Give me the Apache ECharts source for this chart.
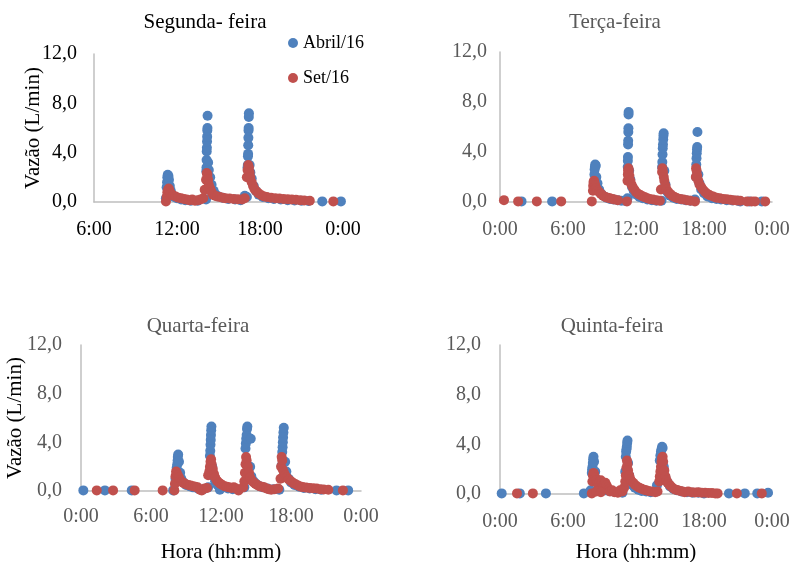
<!DOCTYPE html>
<html>
<head>
<meta charset="utf-8">
<script src="https://cdn.jsdelivr.net/npm/echarts@6/dist/echarts.min.js"></script>
<style>html,body{margin:0;padding:0;background:#fff}#c{width:794px;height:562px}</style>
</head>
<body>
<div id="c"></div>
<script>
// Data: [hour of day, flow L/min]
var panelTitles = ['Segunda- feira', 'Terça-feira', 'Quarta-feira', 'Quinta-feira'];
var seriesNames = ['Abril/16', 'Set/16'];
var yTicks = [0, 4, 8, 12];
var xRanges = [[6, 24], [0, 24], [0, 24], [0, 24]];

var monAbr = [[11.2,0.3],[11.25,1.2],[11.28,1.6],[11.3,2.0],[11.33,2.2],[11.38,2.1],[11.42,1.8],[11.48,1.3],[11.55,0.9],[11.65,0.6],[11.8,0.4],[12.0,0.3],[12.3,0.2],[12.6,0.15],[13.0,0.1],[13.5,0.1],
[14.1,0.2],[14.12,2.5],[14.13,2.8],[14.14,3.4],[14.15,4.1],[14.16,4.4],[14.17,4.9],[14.18,5.3],[14.19,5.8],[14.2,6.0],[14.21,7.0],[14.25,3.2],[14.3,2.6],[14.4,2.0],[14.5,1.4],[14.65,0.9],[14.8,0.6],[15.0,0.45],[15.3,0.35],[15.7,0.25],[16.2,0.2],[16.6,0.15],[16.9,0.5],
[17.05,0.4],[17.1,2.8],[17.12,3.0],[17.13,3.7],[17.14,3.9],[17.15,4.6],[17.16,5.2],[17.17,5.8],[17.18,6.0],[17.19,6.9],[17.2,7.2],[17.25,3.0],[17.3,2.4],[17.4,1.9],[17.55,1.3],[17.7,0.9],[17.9,0.6],[18.2,0.4],[18.6,0.3],[19.0,0.25],[19.5,0.2],[20.0,0.15],[20.5,0.12],[21.0,0.1],[21.5,0.08],[22.5,0.05],[23.85,0.05]];
var monSet = [[11.2,0.05],[11.25,0.4],[11.3,0.8],[11.35,1.0],[11.4,1.1],[11.45,0.9],[11.55,0.7],[11.7,0.55],[11.9,0.45],[12.1,0.35],[12.3,0.3],[12.5,0.25],[12.7,0.2],[12.9,0.15],[13.1,0.2],[13.3,0.1],[13.5,0.15],[13.7,0.2],[13.9,0.3],
[14.0,1.0],[14.1,1.8],[14.15,2.35],[14.2,2.2],[14.25,1.8],[14.3,1.4],[14.4,1.1],[14.5,0.8],[14.6,0.6],[14.75,0.5],[14.9,0.45],[15.1,0.4],[15.3,0.35],[15.5,0.3],[15.8,0.28],[16.1,0.25],[16.4,0.22],[16.7,0.2],[16.9,0.3],
[17.05,2.0],[17.1,2.6],[17.15,3.0],[17.2,2.8],[17.25,2.4],[17.3,2.0],[17.4,1.6],[17.5,1.3],[17.6,1.05],[17.75,0.85],[17.9,0.7],[18.1,0.55],[18.3,0.45],[18.5,0.4],[18.8,0.35],[19.1,0.3],[19.4,0.28],[19.7,0.25],[20.0,0.22],[20.3,0.2],[20.6,0.18],[20.9,0.15],[21.2,0.12],[21.6,0.1],[23.3,0.05]];

var tueAbr = [[1.9,0.05],[4.6,0.05],
[8.3,1.5],[8.33,2.2],[8.35,2.6],[8.37,2.8],[8.4,3.0],[8.45,2.9],[8.5,2.0],[8.6,1.5],[8.75,1.0],[8.9,0.7],[9.1,0.5],[9.4,0.35],[9.7,0.25],[10.0,0.2],[10.4,0.15],[10.7,0.1],[11.0,0.1],
[11.25,0.3],[11.27,2.8],[11.28,3.3],[11.29,3.6],[11.3,4.6],[11.31,4.9],[11.32,5.6],[11.33,5.9],[11.34,7.0],[11.35,7.2],[11.4,2.5],[11.5,1.8],[11.65,1.2],[11.8,0.9],[12.0,0.6],[12.3,0.4],[12.6,0.3],[13.0,0.2],[13.4,0.15],[13.8,0.1],
[14.25,0.1],[14.3,2.8],[14.32,3.2],[14.34,3.8],[14.36,4.3],[14.38,4.6],[14.4,5.0],[14.42,5.3],[14.44,5.5],[14.5,2.5],[14.6,1.4],[14.7,0.9],[14.85,0.7],[15.0,0.5],[15.3,0.35],[15.6,0.25],[16.0,0.2],[16.4,0.15],[16.8,0.1],
[17.2,0.2],[17.3,2.0],[17.32,3.0],[17.34,3.5],[17.36,3.9],[17.38,4.2],[17.4,4.4],[17.42,5.6],[17.5,2.2],[17.6,1.5],[17.75,1.0],[18.0,0.7],[18.3,0.45],[18.7,0.3],[19.1,0.25],[19.5,0.2],[20.0,0.15],[20.5,0.12],[21.0,0.1],[21.2,0.05],[22.0,0.05],[23.1,0.05]];
var tueSet = [[0.35,0.15],[1.6,0.05],[3.25,0.05],[5.4,0.05],
[8.1,0.05],[8.2,0.9],[8.22,1.3],[8.25,1.6],[8.3,1.7],[8.35,1.5],[8.4,1.3],[8.5,1.1],[8.6,0.9],[8.75,0.8],[8.9,0.65],[9.1,0.5],[9.3,0.4],[9.5,0.35],[9.7,0.3],[9.9,0.25],[10.1,0.2],[10.4,0.15],
[11.2,0.05],[11.25,1.7],[11.28,2.2],[11.3,2.5],[11.33,2.7],[11.37,2.5],[11.42,2.1],[11.5,1.7],[11.6,1.4],[11.7,1.2],[11.85,1.0],[12.0,0.8],[12.2,0.65],[12.4,0.55],[12.6,0.45],[12.8,0.38],[13.0,0.3],[13.2,0.25],[13.5,0.2],[13.8,0.15],[14.1,0.1],
[14.2,1.0],[14.3,2.4],[14.33,2.7],[14.38,2.4],[14.45,2.0],[14.5,1.7],[14.6,1.3],[14.7,1.0],[14.85,0.8],[15.0,0.65],[15.2,0.5],[15.4,0.4],[15.6,0.32],[15.9,0.25],[16.2,0.2],[16.5,0.15],[16.8,0.1],
[17.2,0.05],[17.28,2.0],[17.3,2.7],[17.35,2.5],[17.4,2.1],[17.5,1.7],[17.6,1.4],[17.75,1.2],[17.9,1.0],[18.1,0.8],[18.3,0.65],[18.5,0.55],[18.8,0.45],[19.1,0.35],[19.4,0.3],[19.7,0.25],[20.0,0.22],[20.3,0.18],[20.6,0.15],[20.9,0.12],[21.2,0.1],[21.8,0.05],[22.2,0.05],[22.5,0.05],[23.4,0.05]];

var wedAbr = [[0.2,0.05],[2.05,0.05],[4.35,0.05],[7.9,0.05],
[8.1,1.0],[8.2,1.9],[8.25,2.2],[8.28,2.5],[8.3,2.8],[8.33,3.0],[8.4,2.4],[8.5,1.5],[8.6,1.0],[8.8,0.7],[9.0,0.5],[9.3,0.4],[9.6,0.3],[10.0,0.2],[10.5,0.15],
[10.9,0.3],[11.05,2.9],[11.08,3.3],[11.1,3.8],[11.12,4.2],[11.14,4.6],[11.16,5.0],[11.18,5.3],[11.25,2.0],[11.35,1.2],[11.5,0.8],[11.7,0.5],[11.9,0.1],[12.2,0.3],[12.6,0.2],[13.0,0.15],[13.5,0.1],
[14.0,0.3],[14.1,3.5],[14.13,3.9],[14.16,4.3],[14.2,4.6],[14.23,5.1],[14.26,5.3],[14.55,4.3],[14.5,2.0],[14.6,1.2],[14.8,0.8],[15.0,0.6],[15.3,0.4],[15.6,0.3],[16.0,0.2],[16.5,0.15],[17.0,0.1],
[17.2,2.1],[17.25,3.2],[17.28,3.6],[17.3,4.0],[17.32,4.4],[17.35,4.8],[17.38,5.2],[17.5,2.4],[17.6,1.6],[17.8,1.0],[18.0,0.7],[18.3,0.5],[18.7,0.35],[19.1,0.25],[19.6,0.2],[20.1,0.15],[20.6,0.1],[21.9,0.05],[22.9,0.05]];
var wedSet = [[1.35,0.05],[2.75,0.05],[4.6,0.05],[7.0,0.05],
[8.0,0.05],[8.05,0.6],[8.1,1.2],[8.15,1.6],[8.2,1.5],[8.3,1.3],[8.4,1.1],[8.5,0.9],[8.65,0.75],[8.8,0.65],[9.0,0.55],[9.2,0.5],[9.4,0.45],[9.6,0.4],[9.8,0.35],[10.0,0.3],[10.2,0.1],[10.35,0.05],[10.6,0.2],[10.8,0.25],
[10.9,1.3],[11.0,1.6],[11.05,2.0],[11.1,2.4],[11.15,2.6],[11.2,2.2],[11.3,1.8],[11.4,1.4],[11.5,1.1],[11.65,0.85],[11.8,0.7],[11.95,0.6],[12.1,0.5],[12.3,0.4],[12.5,0.35],[12.7,0.3],[12.9,0.25],[13.1,0.3],[13.3,0.2],[13.5,0.05],
[13.9,0.3],[14.0,0.8],[14.05,1.5],[14.1,2.2],[14.15,2.8],[14.2,2.5],[14.3,2.0],[14.4,1.5],[14.5,1.1],[14.65,0.85],[14.8,0.7],[14.95,0.6],[15.1,0.5],[15.3,0.4],[15.5,0.35],[15.7,0.3],[15.9,0.2],[16.1,0.15],[16.3,0.1],[16.6,0.15],[16.9,0.2],
[17.1,1.0],[17.15,2.0],[17.2,2.8],[17.25,2.5],[17.3,1.75],[17.4,1.5],[17.5,1.3],[17.65,1.1],[17.8,0.95],[18.0,0.8],[18.2,0.65],[18.4,0.55],[18.6,0.45],[18.8,0.38],[19.0,0.32],[19.3,0.28],[19.6,0.25],[19.9,0.22],[20.2,0.2],[20.5,0.15],[20.8,0.12],[21.2,0.1],[22.45,0.05]];

var thuAbr = [[0.15,0.05],[1.75,0.05],[4.05,0.05],[7.4,0.05],
[8.0,0.3],[8.1,1.7],[8.13,2.0],[8.16,2.2],[8.19,2.5],[8.22,2.8],[8.25,3.0],[8.3,2.6],[8.4,1.8],[8.5,1.2],[8.65,0.8],[8.8,0.6],[9.0,0.4],[9.3,0.3],[9.6,0.25],[10.0,0.2],[10.4,0.15],[10.8,0.1],
[11.05,1.8],[11.1,3.0],[11.13,3.4],[11.16,3.6],[11.19,3.8],[11.22,4.1],[11.25,4.3],[11.3,2.5],[11.4,1.5],[11.55,1.0],[11.7,0.7],[11.9,0.5],[12.2,0.35],[12.5,0.25],[12.9,0.2],[13.3,0.15],[13.85,0.7],
[14.1,2.7],[14.15,3.1],[14.2,3.4],[14.25,3.6],[14.3,3.8],[14.35,3.7],[14.45,2.2],[14.6,1.3],[14.8,0.9],[15.0,0.6],[15.3,0.4],[15.6,0.3],[16.0,0.2],[16.5,0.15],[17.0,0.1],[17.5,0.1],[18.0,0.05],[20.2,0.05],[21.6,0.05],[22.7,0.05],[23.65,0.1]];
var thuSet = [[1.5,0.05],[2.9,0.05],
[8.1,0.05],[8.15,1.0],[8.2,1.5],[8.25,1.7],[8.3,1.6],[8.4,1.3],[8.5,1.1],[8.6,0.9],[8.7,0.7],[8.8,1.0],[8.9,1.1],[9.0,0.9],[9.1,0.7],[9.2,0.8],[9.3,0.9],[9.4,0.7],[9.5,0.5],[9.6,0.35],[9.7,0.2],[8.5,0.2],[8.9,0.15],[9.9,0.3],[10.1,0.15],
[10.4,0.1],[10.6,0.3],[10.8,0.2],[10.95,0.5],[11.05,1.0],[11.1,1.5],[11.15,2.1],[11.2,2.7],[11.25,2.4],[11.3,1.9],[11.4,1.5],[11.5,1.2],[11.6,1.0],[11.75,0.9],[11.9,0.75],[12.1,0.6],[12.3,0.5],[12.5,0.42],[12.7,0.35],[12.9,0.3],[13.1,0.25],[13.4,0.2],[13.7,0.15],[13.9,0.2],
[14.05,1.0],[14.1,1.4],[14.15,1.8],[14.2,2.2],[14.25,2.6],[14.3,2.9],[14.35,3.0],[14.4,2.6],[14.5,1.9],[14.6,1.4],[14.7,1.1],[14.8,0.9],[14.95,0.75],[15.1,0.6],[15.3,0.45],[15.5,0.35],[15.7,0.3],[15.9,0.25],[16.1,0.2],[16.3,0.15],[16.6,0.2],[16.9,0.15],[17.2,0.12],[17.5,0.15],[17.8,0.1],[18.1,0.1],[18.4,0.08],[18.7,0.08],[19.0,0.05],[19.2,0.05],[20.9,0.05],[23.1,0.05]];

var panelData = [[monAbr, monSet], [tueAbr, tueSet], [wedAbr, wedSet], [thuAbr, thuSet]];

var FONT = "'Liberation Serif','Times New Roman',serif";
var BLUE = '#4F81BD', RED = '#C0504D';
var grids = [
  {left: 94, top: 54, width: 249, height: 148, containLabel: false, outerBoundsMode: 'none'},
  {left: 500, top: 52, width: 272, height: 150, containLabel: false, outerBoundsMode: 'none'},
  {left: 81, top: 345, width: 280, height: 146, containLabel: false, outerBoundsMode: 'none'},
  {left: 500, top: 345, width: 272, height: 149, containLabel: false, outerBoundsMode: 'none'}
];
var labelColor = ['#000', '#595959', '#595959', '#595959'];
var yMargins = [17, 13, 19, 19];
var xMargins = [18, 18, 16, 18];
var titlePos = [[205, 12], [615, 12], [198, 316], [612, 316]];

var option = {
  backgroundColor: '#fff',
  animation: false,
  title: panelTitles.map(function (t, i) {
    return {text: t, left: titlePos[i][0], top: titlePos[i][1], textAlign: 'center', padding: 0,
      textStyle: {fontFamily: FONT, fontSize: 21, fontWeight: 'normal', color: labelColor[i]}};
  }),
  legend: [
    {data: [seriesNames[0]], left: 288, top: 34, orient: 'vertical', icon: 'circle', itemWidth: 10, itemHeight: 10, padding: 0,
     textStyle: {fontFamily: FONT, fontSize: 18, color: '#000'}},
    {data: [seriesNames[1]], left: 288, top: 69, orient: 'vertical', icon: 'circle', itemWidth: 10, itemHeight: 10, padding: 0,
     textStyle: {fontFamily: FONT, fontSize: 18, color: '#000'}}
  ],
  grid: grids,
  xAxis: grids.map(function (g, i) {
    var ax = {
      type: 'value', gridIndex: i, min: xRanges[i][0], max: xRanges[i][1], interval: 6,
      axisLine: {show: true, onZero: false, lineStyle: {color: '#BFBFBF', width: 1.5}},
      axisTick: {show: false}, splitLine: {show: false},
      axisLabel: {margin: xMargins[i], fontFamily: FONT, fontSize: 20, color: labelColor[i], showMaxLabel: true, showMinLabel: true,
        formatter: function (v) { return (v % 24) + ':00'; }}
    };
    if (i >= 2) {
      ax.name = 'Hora (hh:mm)'; ax.nameLocation = 'middle'; ax.nameGap = (i === 2 ? 51 : 48);
      ax.nameMoveOverlap = false;
      ax.nameTextStyle = {fontFamily: FONT, fontSize: 21, color: '#000'};
    }
    return ax;
  }),
  yAxis: grids.map(function (g, i) {
    var ax = {
      type: 'value', gridIndex: i, min: yTicks[0], max: yTicks[yTicks.length - 1], interval: 4,
      axisLine: {show: true, lineStyle: {color: '#BFBFBF', width: 1.5}},
      axisTick: {show: false}, splitLine: {show: false},
      axisLabel: {margin: yMargins[i], fontFamily: FONT, fontSize: 20, color: labelColor[i],
        formatter: function (v) { return v.toFixed(1).replace('.', ','); }}
    };
    if (i === 0 || i === 2) {
      ax.name = 'Vazão (L/min)'; ax.nameLocation = 'middle'; ax.nameGap = (i === 0 ? 50 : 55);
      ax.nameMoveOverlap = false;
      ax.nameTextStyle = {fontFamily: FONT, fontSize: 21, color: '#000'};
    }
    return ax;
  }),
  series: []
};

panelData.forEach(function (pair, i) {
  pair.forEach(function (d, k) {
    option.series.push({
      type: 'scatter', name: seriesNames[k], xAxisIndex: i, yAxisIndex: i,
      data: d, symbol: 'circle', symbolSize: 10,
      itemStyle: {color: k === 0 ? BLUE : RED, opacity: 1}
    });
  });
});

var chart = echarts.init(document.getElementById('c'), null, {renderer: 'canvas'});
chart.setOption(option);
</script>
</body>
</html>
